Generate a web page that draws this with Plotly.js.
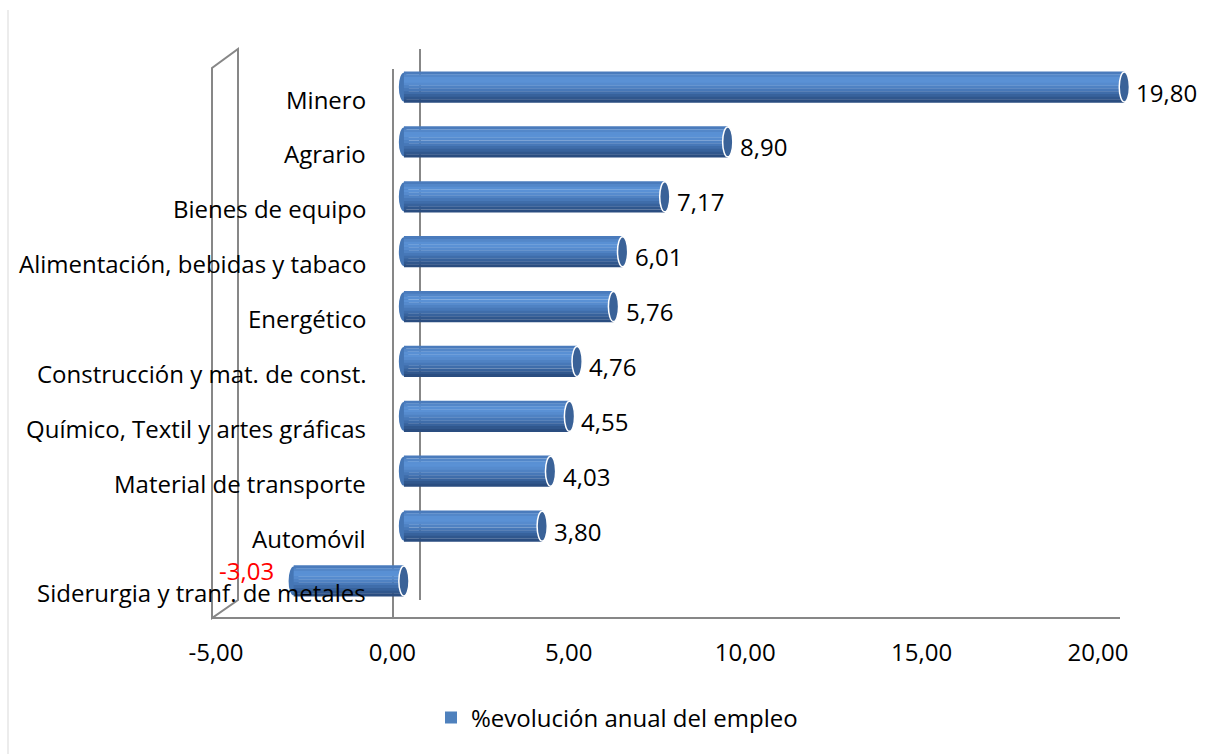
<!DOCTYPE html>
<html><head><meta charset="utf-8">
<script src="https://cdn.plot.ly/plotly-3.0.1.min.js"></script>
<style>html,body{margin:0;padding:0;background:#fff}#chart{width:1208px;height:754px}</style>
</head><body><div id="chart"></div>
<script>
const categories = ["Minero","Agrario","Bienes de equipo","Alimentación, bebidas y tabaco","Energético","Construcción y mat. de const.","Químico, Textil y artes gráficas","Material de transporte","Automóvil","Siderurgia y tranf. de metales"];
const values = [19.80, 8.90, 7.17, 6.01, 5.76, 4.76, 4.55, 4.03, 3.80, -3.03];
const seriesName = "%evolución anual del empleo";
const xTickValues = [-5, 0, 5, 10, 15, 20];
const xTickLabels = ["-5,00", "0,00", "5,00", "10,00", "15,00", "20,00"];

const W = 1208, H = 754;
const px = x => x / W, py = y => (H - y) / H;
const cats = categories.slice().reverse();
const vals = values.slice().reverse();
const BW = 0.565;
const FONT = "Open Sans, sans-serif";
const FS = 24;

// cylinder shading stripes, top to bottom
const stripeColors = ['#4A7BBC', '#5387C9', '#5990D4', '#5A91D5', '#568BCE', '#4F82C3', '#4778B8', '#3F6DAA', '#37629C', '#30578D', '#2A4D80'];
const nS = stripeColors.length;
const sw = BW / nS;
const traces = stripeColors.map((c, k) => ({
  type: 'bar', orientation: 'h', x: vals, y: cats,
  xaxis: 'x', yaxis: 'y',
  offset: BW / 2 - (k + 1) * sw - 0.002, width: sw + 0.004,
  marker: {color: c, line: {width: 0}},
  name: seriesName, showlegend: false, hoverinfo: 'skip'
}));
// legend entry
traces.push({type: 'bar', orientation: 'h', x: [null], y: [cats[0]], xaxis: 'x', yaxis: 'y',
  marker: {color: '#4F81BD'}, name: seriesName, showlegend: true, hoverinfo: 'skip'});
// anchor for the visible value axis
traces.push({type: 'scatter', mode: 'none', x: xTickValues, y: xTickValues.map(() => cats[0]),
  xaxis: 'x2', yaxis: 'y', showlegend: false, hoverinfo: 'skip'});

const shapes = [];
const annotations = [];
const grey = '#878787';
function pline(x0, y0, x1, y1, color, w) {
  shapes.push({type: 'line', xref: 'paper', yref: 'paper', x0: px(x0), y0: py(y0), x1: px(x1), y1: py(y1), line: {color: color, width: w}, layer: 'below'});
}
pline(8, 10, 8, 754, '#D9D9D9', 1);
shapes.push({type: 'path', xref: 'paper', yref: 'paper', layer: 'below',
  path: `M ${px(212)} ${py(618)} L ${px(212)} ${py(68)} L ${px(238)} ${py(49)} L ${px(238)} ${py(600)} Z`,
  line: {color: grey, width: 2}});
pline(212, 618, 1120, 618, grey, 2);
pline(393, 69, 393, 618, grey, 2);
pline(420, 49, 420, 600, grey, 2);

vals.forEach((v, i) => {
  const capX = Math.max(v, 0), endX = Math.min(v, 0);
  shapes.push({type: 'circle', xref: 'x', yref: 'y', layer: 'below',
    x0: endX - 0.14, x1: endX + 0.14, y0: i - BW / 2 + 0.02, y1: i + BW / 2 - 0.02,
    fillcolor: '#4576B5', line: {width: 0}});
  shapes.push({type: 'circle', xref: 'x', yref: 'y', layer: 'above',
    x0: capX - 0.14, x1: capX + 0.14, y0: i - BW / 2 + 0.01, y1: i + BW / 2 - 0.01,
    fillcolor: '#3A6298', line: {color: '#ffffff', width: 1.5}});
  const txt = v.toFixed(2).replace('.', ',');
  if (v >= 0) {
    annotations.push({x: v, y: cats[i], xref: 'x', yref: 'y', text: txt, showarrow: false,
      xanchor: 'left', xshift: 10, yshift: -5, font: {family: FONT, size: FS, color: '#000'}});
  } else {
    annotations.push({x: v, y: cats[i], xref: 'x', yref: 'y', text: txt, showarrow: false,
      xanchor: 'right', xshift: -18, yshift: 10, font: {family: FONT, size: FS, color: '#FF0000'}});
  }
});
cats.forEach(c => {
  annotations.push({x: px(368), y: c, xref: 'paper', yref: 'y', text: c, showarrow: false,
    xanchor: 'right', yshift: -12, font: {family: FONT, size: FS, color: '#000'}});
});

const layout = {
  width: W, height: H,
  margin: {l: 0, r: 0, t: 0, b: 0},
  paper_bgcolor: '#fff', plot_bgcolor: 'rgba(0,0,0,0)',
  separators: ', ',
  barmode: 'overlay',
  font: {family: FONT, size: FS, color: '#000'},
  xaxis: {domain: [px(222), px(1168)], range: [-5, 21], visible: false, anchor: 'y', fixedrange: true},
  xaxis2: {domain: [px(216), px(1098)], range: [-5, 20], anchor: 'y', tickvals: xTickValues,
    ticktext: xTickLabels, showgrid: false, zeroline: false, showline: false, ticks: '',
    ticklabelstandoff: 28, tickfont: {family: FONT, size: FS, color: '#000'}, fixedrange: true},
  yaxis: {domain: [py(608.4), py(59.6)], range: [-0.5, 9.5], type: 'category', categoryarray: cats,
    categoryorder: 'array', showticklabels: false, showgrid: false, zeroline: false, showline: false,
    anchor: 'x', fixedrange: true},
  legend: {orientation: 'h', x: px(617), xanchor: 'center', y: py(718), yanchor: 'middle',
    font: {family: FONT, size: FS, color: '#000'}, bgcolor: 'rgba(0,0,0,0)'},
  shapes: shapes,
  annotations: annotations
};
Plotly.newPlot('chart', traces, layout, {displayModeBar: false, staticPlot: true});
</script>
</body></html>
